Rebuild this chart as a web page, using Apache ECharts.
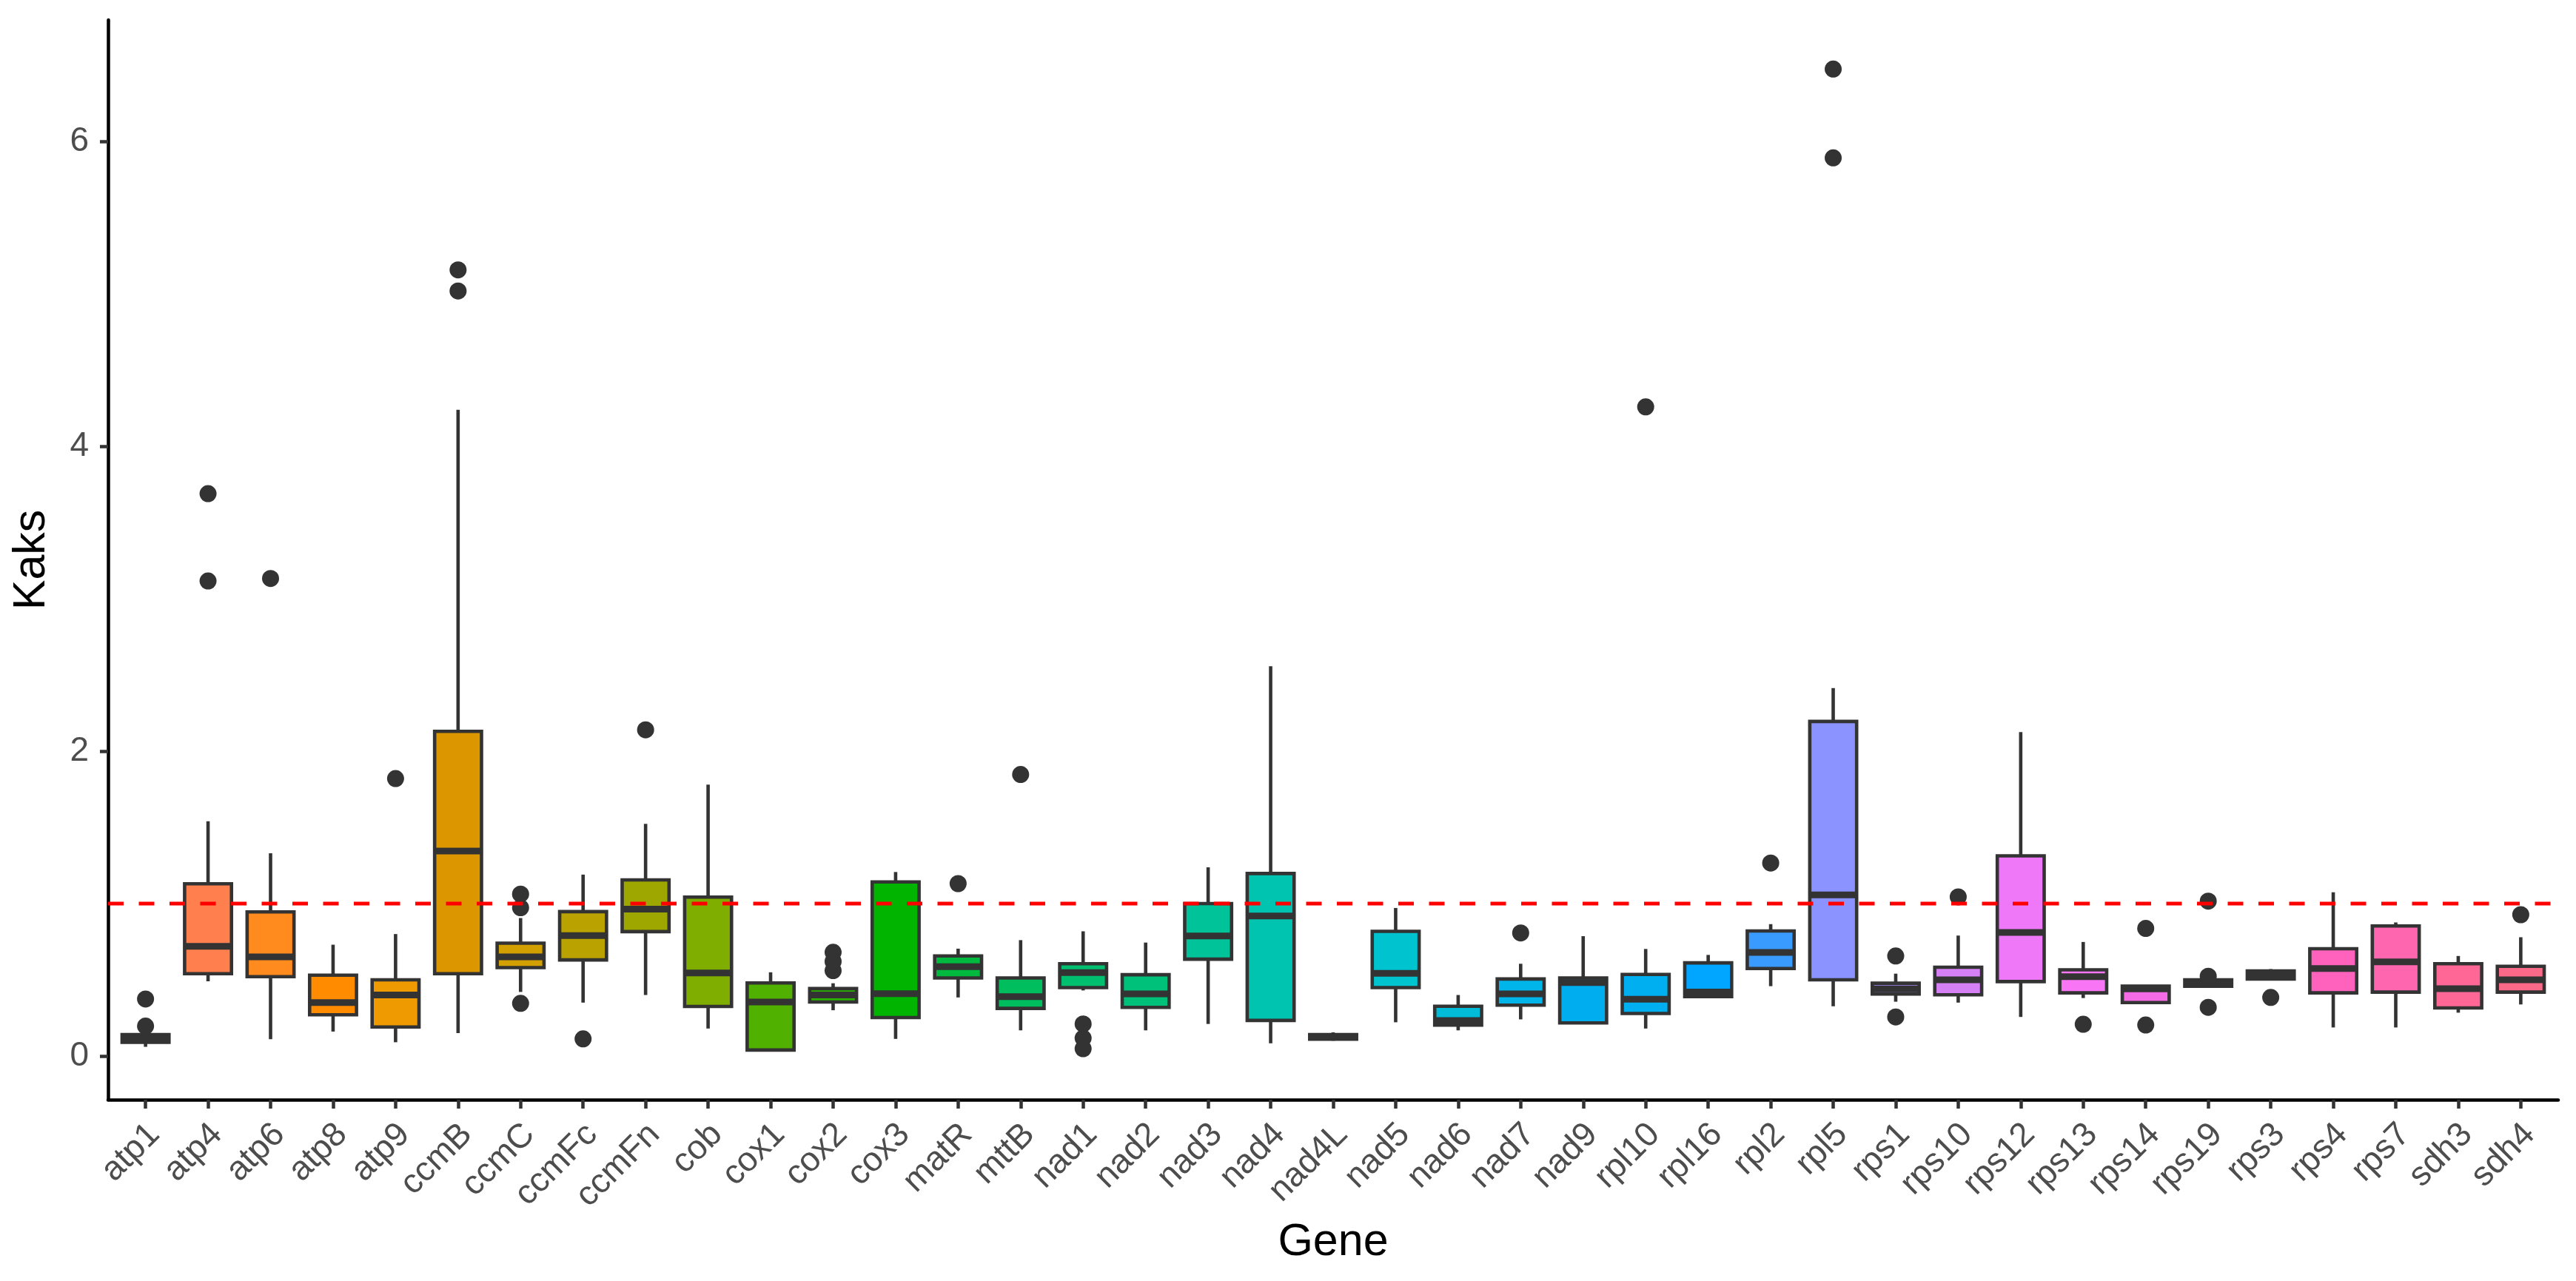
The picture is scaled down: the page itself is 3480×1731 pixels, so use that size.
<!DOCTYPE html>
<html>
<head>
<meta charset="utf-8">
<script src="https://cdn.jsdelivr.net/npm/echarts@6/dist/echarts.min.js"></script>
<style>
html,body{margin:0;padding:0;background:#fff;}
#chart{width:3480px;height:1731px;}
</style>
</head>
<body>
<div id="chart"></div>
<script>
// ---- data ----
const genes = ['atp1','atp4','atp6','atp8','atp9','ccmB','ccmC','ccmFc','ccmFn','cob','cox1','cox2','cox3','matR','mttB','nad1','nad2','nad3','nad4','nad4L','nad5','nad6','nad7','nad9','rpl10','rpl16','rpl2','rpl5','rps1','rps10','rps12','rps13','rps14','rps19','rps3','rps4','rps7','sdh3','sdh4'];
const whiskerLow = [0.06,0.49,0.11,0.16,0.09,0.15,0.42,0.35,0.40,0.18,0.035,0.30,0.112,0.384,0.168,0.43,0.168,0.21,0.083,0.10,0.221,0.168,0.24,0.217,0.18,0.38,0.458,0.326,0.356,0.35,0.256,0.38,0.35,0.458,0.50,0.187,0.187,0.284,0.338];
const quartile1 = [0.09,0.54,0.52,0.27,0.19,0.54,0.58,0.63,0.816,0.325,0.039,0.354,0.252,0.512,0.312,0.449,0.319,0.635,0.233,0.11,0.449,0.203,0.333,0.217,0.279,0.389,0.574,0.500,0.407,0.401,0.488,0.414,0.35,0.458,0.505,0.414,0.419,0.315,0.419];
const medians = [0.11,0.72,0.65,0.35,0.40,1.345,0.65,0.79,0.964,0.544,0.354,0.40,0.409,0.586,0.389,0.547,0.407,0.788,0.918,0.125,0.542,0.233,0.407,0.482,0.372,0.419,0.679,1.057,0.44,0.50,0.811,0.52,0.44,0.477,0.536,0.574,0.617,0.442,0.50];
const quartile3 = [0.14,1.13,0.945,0.53,0.50,2.13,0.74,0.947,1.155,1.042,0.479,0.442,1.142,0.656,0.512,0.605,0.533,1.0,1.197,0.14,0.818,0.326,0.505,0.512,0.535,0.611,0.820,2.195,0.477,0.582,1.313,0.565,0.458,0.50,0.558,0.704,0.853,0.605,0.588];
const whiskerHigh = [0.16,1.54,1.33,0.73,0.80,4.24,0.905,1.19,1.523,1.78,0.549,0.477,1.207,0.704,0.760,0.818,0.744,1.238,2.557,0.155,0.971,0.400,0.605,0.786,0.702,0.663,0.865,2.414,0.540,0.790,2.125,0.748,0.46,0.50,0.57,1.074,0.876,0.656,0.779];
const outliers = [
  ['atp1',0.374],['atp1',0.196],
  ['atp4',3.69],['atp4',3.117],
  ['atp6',3.133],
  ['atp9',1.82],
  ['ccmB',5.158],['ccmB',5.02],
  ['ccmC',1.062],['ccmC',0.973],['ccmC',0.345],
  ['ccmFc',0.112],
  ['ccmFn',2.14],
  ['cox2',0.68],['cox2',0.62],['cox2',0.56],
  ['matR',1.131],
  ['mttB',1.847],
  ['nad1',0.21],['nad1',0.117],['nad1',0.048],
  ['nad7',0.807],
  ['rpl10',4.259],
  ['rpl2',1.266],
  ['rpl5',6.476],['rpl5',5.893],
  ['rps1',0.656],['rps1',0.256],
  ['rps10',1.044],
  ['rps13',0.208],
  ['rps14',0.837],['rps14',0.203],
  ['rps19',1.016],['rps19',0.523],['rps19',0.319],
  ['rps3',0.384],
  ['sdh4',0.927]
];
const referenceLevel = 1;
const yTicks = [0,2,4,6];
const yRange = [-0.287, 6.798];

// ---- palette ----
const fillColors = ['#F8766D','#FF7F4F','#FF8B1F','#FF8C00','#EE9A00','#DC9600','#D2A000','#BAA300','#9EA700','#80AE00','#50B100','#2AB300','#00B400','#00B93F','#00BD5E','#00BF6F','#00C17A','#00C39A','#00C4B0','#00C3C0','#00C3D0','#00BCD8','#00B5EA','#00AEF0','#00AFF0','#00A6FF','#3A9BFF','#8A93FF','#A78AFF','#D580F5','#EE78F8','#F875F5','#F56BE5','#FD66D0','#FF64C4','#FF62BC','#FF66B0','#FF6896','#FA6A88'];

const boxData = genes.map((g,i)=>[i, whiskerLow[i], quartile1[i], medians[i], quartile3[i], whiskerHigh[i]]);

const FONT = "'Liberation Sans', Arial, Helvetica, sans-serif";
const chart = echarts.init(document.getElementById('chart'), null, {renderer:'canvas'});
const LW = 4.6;

function renderBox(params, api){
  const i = api.value(0);
  const w = api.size([1,0])[0]*0.75;
  const pLo = api.coord([i, api.value(1)]);
  const pQ1 = api.coord([i, api.value(2)]);
  const pMed = api.coord([i, api.value(3)]);
  const pQ3 = api.coord([i, api.value(4)]);
  const pHi = api.coord([i, api.value(5)]);
  const x = pQ1[0];
  const ls = {stroke:'#333333', lineWidth:LW};
  return {type:'group', children:[
    {type:'line', shape:{x1:x,y1:pHi[1],x2:x,y2:pQ3[1]}, style:ls},
    {type:'line', shape:{x1:x,y1:pQ1[1],x2:x,y2:pLo[1]}, style:ls},
    {type:'rect', shape:{x:x-w/2,y:pQ3[1],width:w,height:pQ1[1]-pQ3[1]}, style:{fill:fillColors[params.dataIndex], stroke:'#333333', lineWidth:LW}},
    {type:'line', shape:{x1:x-w/2,y1:pMed[1],x2:x+w/2,y2:pMed[1]}, style:{stroke:'#333333', lineWidth:9, lineCap:'butt'}}
  ]};
}

const option = {
  backgroundColor:'#ffffff',
  animation:false,
  grid:[
    {left:146, right:24, top:27, bottom:245, containLabel:false},
    {left:154.4, right:32.4, top:27, bottom:245, containLabel:false},
    {left:166.4, right:20.4, top:27, bottom:245, containLabel:false}
  ],
  xAxis:[
    {type:'value', gridIndex:0, min:0, max:1,
     axisLine:{show:true, onZero:false, lineStyle:{color:'#000', width:4.5}},
     axisTick:{show:false}, axisLabel:{show:false}, splitLine:{show:false},
     name:'Gene', nameLocation:'middle', nameGap:163,
     nameTextStyle:{fontFamily:FONT, fontSize:61, color:'#000'}},
    {type:'category', gridIndex:1, data:genes, boundaryGap:true,
     axisLine:{show:false, onZero:false},
     axisTick:{show:true, alignWithLabel:true, length:12, lineStyle:{color:'#333333', width:4.5}},
     axisLabel:{show:false},
     splitLine:{show:false}},
    {type:'category', gridIndex:2, data:genes, boundaryGap:true,
     axisLine:{show:false, onZero:false},
     axisTick:{show:false},
     axisLabel:{show:true, interval:0, rotate:45, margin:40, fontFamily:FONT, fontSize:46, color:'#4D4D4D'},
     splitLine:{show:false}}
  ],
  yAxis:[
    {type:'value', gridIndex:0, min:yRange[0], max:yRange[1],
     axisLine:{show:true, onZero:false, lineStyle:{color:'#000', width:4.5}},
     axisTick:{show:true, length:11, customValues:yTicks, lineStyle:{color:'#333333', width:4.5}},
     axisLabel:{show:true, customValues:yTicks, margin:26, fontFamily:FONT, fontSize:46, color:'#4D4D4D'},
     splitLine:{show:false},
     name:'Kaks', nameLocation:'middle', nameGap:72,
     nameTextStyle:{fontFamily:FONT, fontSize:61, color:'#000'}},
    {type:'value', gridIndex:1, min:yRange[0], max:yRange[1], show:false, splitLine:{show:false}},
    {type:'value', gridIndex:2, min:yRange[0], max:yRange[1], show:false, splitLine:{show:false}}
  ],
  series:[
    {type:'custom', name:'box', xAxisIndex:1, yAxisIndex:1, z:2,
     renderItem:renderBox, encode:{x:0, y:[1,2,3,4,5]}, data:boxData, clip:false},
    {type:'scatter', name:'outliers', xAxisIndex:1, yAxisIndex:1, z:3,
     symbol:'circle', symbolSize:23, itemStyle:{color:'#333333', opacity:1},
     data:outliers},
    {type:'line', name:'ref', xAxisIndex:0, yAxisIndex:0, z:5, symbol:'none',
     lineStyle:{color:'#FF0000', width:5, type:[21,20.5]},
     data:[[0,referenceLevel],[1,referenceLevel]]}
  ]
};
chart.setOption(option);
</script>
</body>
</html>
